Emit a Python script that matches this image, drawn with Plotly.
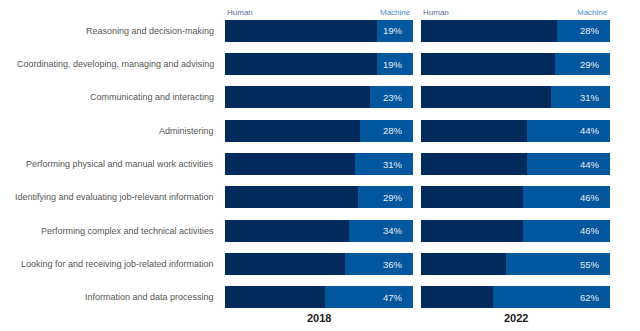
import plotly.graph_objects as go
from plotly.subplots import make_subplots

activities = [
    "Reasoning and decision-making",
    "Coordinating, developing, managing and advising",
    "Communicating and interacting",
    "Administering",
    "Performing physical and manual work activities",
    "Identifying and evaluating job-relevant information",
    "Performing complex and technical activities",
    "Looking for and receiving job-related information",
    "Information and data processing",
]
years = ["2018", "2022"]
machine_2018 = [19, 19, 23, 28, 31, 29, 34, 36, 47]
machine_2022 = [28, 29, 31, 44, 44, 46, 46, 55, 62]

HUMAN = "#022a5b"
MACHINE = "#03579e"
FONT = "Liberation Sans, Arial, sans-serif"

W, H = 640, 331
T, B = 14, 17
PLOT_H = H - T - B


def py(pixel_y):
    """Convert a pixel row of the figure into paper y."""
    return 1 - (pixel_y - T) / PLOT_H


fig = make_subplots(rows=1, cols=2, shared_yaxes=True, horizontal_spacing=0.0)

for col, machine in enumerate([machine_2018, machine_2022], start=1):
    human = [100 - m for m in machine]
    fig.add_trace(go.Bar(y=activities, x=human, orientation="h",
                         marker=dict(color=HUMAN, line_width=0),
                         hoverinfo="skip", showlegend=False), row=1, col=col)
    fig.add_trace(go.Bar(y=activities, x=machine, orientation="h",
                         marker=dict(color=MACHINE, line_width=0),
                         hoverinfo="skip", showlegend=False), row=1, col=col)
    xref = "x" if col == 1 else "x2"
    yref = "y" if col == 1 else "y2"
    for a, m in zip(activities, machine):
        fig.add_annotation(x=96, y=a, xref=xref, yref=yref, text=f"{m}%",
                           xanchor="right", yanchor="middle", showarrow=False,
                           font=dict(family=FONT, size=9.5, color="#e8ecf4"))

dom1 = [225 / W, 413 / W]
dom2 = [421 / W, 610 / W]
fig.update_xaxes(range=[0, 100], showticklabels=False, showgrid=False,
                 zeroline=False, showline=False, fixedrange=True)
fig.update_layout(
    xaxis=dict(domain=dom1),
    xaxis2=dict(domain=dom2),
)
fig.update_yaxes(autorange="reversed", showticklabels=False, showgrid=False,
                 zeroline=False, showline=False, type="category")

# activity labels to the left of the first panel
for a in activities:
    fig.add_annotation(x=216 / W, y=a, xref="paper", yref="y", text=a,
                       xanchor="right", yanchor="middle", showarrow=False,
                       font=dict(family=FONT, size=9, color="#555555"))

# column headers and year captions
for dom, year in zip([dom1, dom2], years):
    fig.add_annotation(x=dom[0], y=py(12), xref="paper", yref="paper",
                       text="Human", xanchor="left", yanchor="middle",
                       showarrow=False,
                       font=dict(family="Liberation Sans Narrow, " + FONT,
                                 size=8, color="#5d6b9e"))
    fig.add_annotation(x=dom[1], y=py(12), xref="paper", yref="paper",
                       text="Machine", xanchor="right", yanchor="middle",
                       showarrow=False,
                       font=dict(family="Liberation Sans Narrow, " + FONT,
                                 size=8, color="#4a8ad0"))
    fig.add_annotation(x=(dom[0] + dom[1]) / 2, y=py(318), xref="paper",
                       yref="paper", text=f"<b>{year}</b>", xanchor="center",
                       yanchor="middle", showarrow=False,
                       font=dict(family=FONT, size=11, color="#222222"))

fig.update_layout(
    barmode="stack",
    bargap=0.34,
    width=W, height=H,
    margin=dict(l=0, r=0, t=T, b=B),
    paper_bgcolor="white", plot_bgcolor="white",
)

fig.write_html("out.html")
